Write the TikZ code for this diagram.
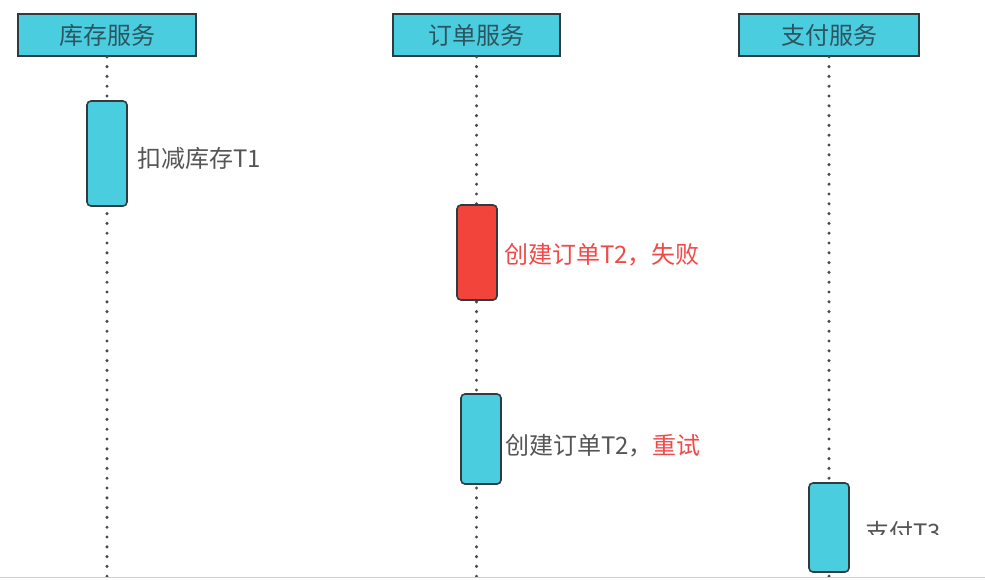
\documentclass[tikz,border=0pt]{standalone}
\usepackage{fontspec}
\setmainfont{Noto Sans CJK SC}
\definecolor{boxcyan}{HTML}{4BCDE0}
\definecolor{boxred}{HTML}{F2443A}
\definecolor{edge}{HTML}{2F3B3E}
\definecolor{headtext}{HTML}{2C5560}
\definecolor{labgray}{HTML}{555555}
\definecolor{labred}{HTML}{F04A48}
\definecolor{dotgray}{HTML}{4A4A4A}
\definecolor{rulegray}{HTML}{D0D0D0}
\newcommand{\hdtext}[1]{\raisebox{-3pt}{#1}}
\tikzset{
  header/.style={draw=edge, line width=1.6pt, fill=boxcyan, rectangle, minimum height=42pt, inner sep=0pt,
    font=\fontsize{24pt}{27pt}\selectfont, text=headtext},
  actbox/.style={draw=edge, line width=1.6pt, fill=boxcyan, rectangle, rounded corners=4pt, minimum width=40pt, inner sep=0pt},
  actred/.style={actbox, fill=boxred},
  lifeline/.style={dotgray, line width=3.4pt, line cap=round, dash pattern=on 0pt off 9.8pt},
  lab/.style={anchor=west, inner sep=0pt, font=\fontsize{24pt}{27pt}\selectfont, text=labgray},
}
\begin{document}
\begin{tikzpicture}[x=1pt,y=-1pt]
\useasboundingbox (0,0) rectangle (985,579);
\fill[white] (0,0) rectangle (985,579);
% headers
\node[header, minimum width=178pt] (h1) at (107,35) {\hdtext{库存服务}};
\node[header, minimum width=167pt] (h2) at (476.5,35) {\hdtext{订单服务}};
\node[header, minimum width=180pt] (h3) at (829,35) {\hdtext{支付服务}};
% bottom ends of lifelines
\coordinate (e1) at (107,579);
\coordinate (e2) at (476.5,579);
\coordinate (e3) at (829,579);
% lifelines
\draw[lifeline] (h1.south) -- (e1);
\draw[lifeline] (h2.south) -- (e2);
\draw[lifeline] (h3.south) -- (e3);
% activations
\node[actbox, minimum height=105pt] (a1) at (107,153.5) {};
\node[actred, minimum height=95pt] (a2) at (477,252.5) {};
\node[actbox, minimum height=90pt] (a3) at (481,439) {};
\node[actbox, minimum height=89pt] (a4) at (829,527.5) {};
% labels
\node[lab] (l1) at (137,158) {扣减库存T1};
\node[lab, text=labred] (l2) at (504,255) {创建订单T2，失败};
\node[lab] (l3) at (505,446) {创建订单T2，\textcolor{labred}{重试}};
\node[lab] (l4) at (865,532) {支付T3};
% white overlay covering the lower part of the last label
\fill[white] (864,535) rectangle (977,564);
% bottom rule
\draw[rulegray, line width=1.5pt] (0,577.5) -- (985,577.5);
\end{tikzpicture}
\end{document}
